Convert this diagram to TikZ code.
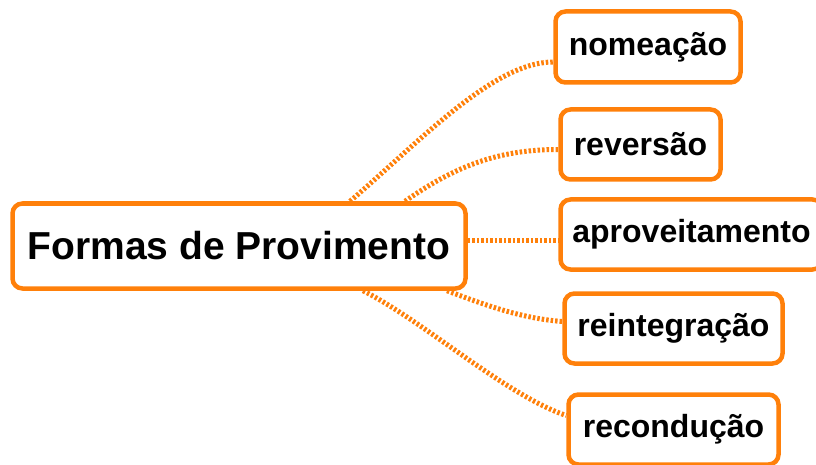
\documentclass[tikz,border=0pt]{standalone}
\usepackage{fontspec}
\setmainfont{Liberation Sans}
\usetikzlibrary{calc,backgrounds}
\definecolor{orng}{RGB}{255,128,10}
\tikzset{
  box/.style={draw=orng, line width=4.5pt, rounded corners=10pt, fill=white,
    inner sep=0pt, align=center, font=\bfseries\fontsize{32}{36}\selectfont},
  link/.style={draw=orng, line width=5pt, dash pattern=on 2.5pt off 2pt}
}
\begin{document}
\begin{tikzpicture}[x=1pt,y=-1pt]
\useasboundingbox (0,0) rectangle (816,465);
\clip (0,0) rectangle (816,465);
\node[box, minimum width=453pt, minimum height=85pt,
  font=\bfseries\fontsize{39}{44}\selectfont] (main) at (239,246) {Formas de Provimento};
\node[box, minimum width=185pt, minimum height=71pt] (nom) at (648,47) {nomeação};
\node[box, minimum width=160pt, minimum height=70pt] (rev) at (640.5,144.5) {reversão};
\node[box, minimum width=262pt, minimum height=70pt] (apr) at (691.5,234.5) {aproveitamento};
\node[box, minimum width=218pt, minimum height=70pt] (rei) at (673.5,328.5) {reintegração};
\node[box, minimum width=210pt, minimum height=70pt] (rec) at (673.5,429.5) {recondução};
\begin{scope}[on background layer]
\draw[link] ($(main.north)+(111,0)$) .. controls +(70,-60) and +(-60,0) .. ($(nom.west)+(0,15)$);
\draw[link] ($(main.north)+(166,0)$) .. controls +(50,-35) and +(-60,0) .. ($(rev.west)+(0,5)$);
\draw[link] (main.east |- apr.west) ++(0,6) coordinate (a1) -- (a1 -| apr.west);
\draw[link] ($(main.south)+(208,0)$) .. controls +(40,15) and +(-40,-3) .. ($(rei.west)+(0,-7)$);
\draw[link] ($(main.south)+(124,0)$) .. controls +(60,30) and +(-60,-20) .. ($(rec.west)+(0,-14)$);
\end{scope}
\end{tikzpicture}
\end{document}
